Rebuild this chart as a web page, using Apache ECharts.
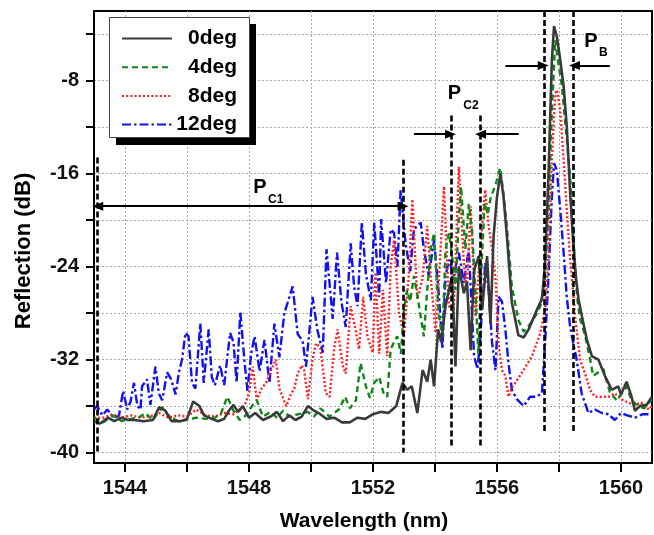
<!DOCTYPE html>
<html><head><meta charset="utf-8">
<script src="https://cdn.jsdelivr.net/npm/echarts@6/dist/echarts.min.js"></script>
<style>html,body{margin:0;padding:0;background:#fff}#c{width:654px;height:535px}</style>
</head><body><div id="c"></div>
<script>
const FONT = '"Liberation Sans", Arial, Helvetica, sans-serif';

// ---- axis ticks / labels ----
const xTicks = [1544,1546,1548,1550,1552,1554,1556,1558,1560];
const xLabels = [1544,1548,1552,1556,1560];
const yTicks = [-40,-36,-32,-28,-24,-20,-16,-12,-8,-4];
const yLabels = [-40,-32,-24,-16,-8];
const seriesNames = ['0deg','4deg','8deg','12deg'];

// ---- series values: [wavelength nm, reflection dB] ----
const deg0 = [[1543.0,-37.3],[1543.2,-37.5],[1543.45,-37.0],[1543.65,-37.3],[1543.9,-37.0],[1544.1,-37.2],[1544.3,-37.2],[1544.6,-37.3],[1544.9,-37.2],[1545.1,-36.1],[1545.3,-36.4],[1545.5,-37.3],[1545.8,-37.3],[1546.0,-37.1],[1546.2,-35.6],[1546.4,-36.0],[1546.55,-36.8],[1546.8,-37.1],[1547.0,-37.3],[1547.2,-37.1],[1547.35,-36.4],[1547.5,-35.9],[1547.65,-36.5],[1547.8,-36.0],[1548.0,-37.0],[1548.2,-36.6],[1548.45,-37.2],[1548.7,-36.9],[1548.9,-36.5],[1549.1,-37.3],[1549.3,-36.8],[1549.5,-37.2],[1549.7,-36.9],[1549.9,-36.0],[1550.1,-36.4],[1550.3,-36.7],[1550.5,-37.1],[1550.75,-37.0],[1551.0,-37.4],[1551.25,-37.4],[1551.5,-37.0],[1551.75,-37.1],[1552.0,-36.7],[1552.25,-36.5],[1552.5,-36.6],[1552.75,-36.0],[1552.95,-34.0],[1553.1,-34.6],[1553.25,-34.3],[1553.43,-36.6],[1553.6,-32.9],[1553.75,-33.9],[1553.86,-32.0],[1553.97,-34.3],[1554.1,-29.4],[1554.2,-30.5],[1554.34,-27.4],[1554.45,-26.0],[1554.55,-24.8],[1554.66,-32.6],[1554.77,-24.0],[1554.93,-26.3],[1555.03,-25.3],[1555.15,-31.2],[1555.26,-24.3],[1555.41,-23.1],[1555.52,-27.7],[1555.68,-23.1],[1555.79,-28.9],[1555.89,-21.4],[1556.0,-18.0],[1556.11,-16.0],[1556.21,-18.0],[1556.32,-21.4],[1556.48,-27.1],[1556.69,-29.9],[1556.86,-30.1],[1557.02,-29.4],[1557.29,-27.7],[1557.45,-26.8],[1557.55,-23.7],[1557.66,-16.2],[1557.77,-6.2],[1557.84,-3.3],[1557.93,-4.2],[1558.04,-6.2],[1558.15,-8.5],[1558.25,-11.9],[1558.36,-17.7],[1558.46,-22.0],[1558.55,-25.0],[1558.63,-26.8],[1558.74,-28.3],[1558.9,-30.3],[1559.06,-31.7],[1559.27,-32.0],[1559.48,-33.4],[1559.7,-34.6],[1559.91,-34.3],[1560.0,-35.0],[1560.18,-33.9],[1560.34,-35.2],[1560.45,-36.4],[1560.61,-36.0],[1560.82,-35.9],[1561.0,-35.2]];
const deg4 = [[1543.0,-37.0],[1543.3,-37.4],[1543.6,-36.8],[1543.9,-37.3],[1544.2,-37.1],[1544.5,-36.9],[1544.65,-36.6],[1544.9,-37.2],[1545.2,-36.1],[1545.4,-36.8],[1545.7,-37.3],[1546.0,-37.2],[1546.3,-37.0],[1546.6,-37.1],[1546.9,-37.0],[1547.1,-36.6],[1547.3,-35.2],[1547.5,-36.4],[1547.7,-37.2],[1547.9,-36.8],[1548.1,-36.0],[1548.25,-35.5],[1548.45,-36.9],[1548.7,-36.5],[1548.9,-37.0],[1549.1,-36.4],[1549.3,-36.9],[1549.6,-36.7],[1549.9,-36.5],[1550.1,-36.9],[1550.3,-36.2],[1550.6,-36.9],[1550.9,-36.3],[1551.1,-35.2],[1551.25,-36.2],[1551.45,-35.5],[1551.6,-32.3],[1551.77,-34.3],[1551.9,-35.3],[1552.04,-34.0],[1552.2,-33.5],[1552.35,-35.0],[1552.46,-35.2],[1552.57,-31.1],[1552.68,-30.5],[1552.78,-30.0],[1552.9,-31.5],[1553.0,-27.7],[1553.1,-26.0],[1553.2,-27.0],[1553.32,-24.8],[1553.43,-26.5],[1553.54,-28.3],[1553.64,-30.0],[1553.75,-26.0],[1553.86,-22.5],[1553.97,-21.1],[1554.05,-25.0],[1554.13,-28.3],[1554.24,-30.0],[1554.34,-22.5],[1554.45,-21.1],[1554.55,-23.0],[1554.66,-26.0],[1554.77,-19.7],[1554.84,-17.1],[1554.98,-22.5],[1555.09,-18.6],[1555.2,-21.0],[1555.3,-26.0],[1555.4,-31.5],[1555.5,-24.0],[1555.6,-18.5],[1555.7,-19.5],[1555.8,-18.0],[1555.95,-17.0],[1556.1,-15.5],[1556.2,-17.5],[1556.32,-20.6],[1556.48,-25.7],[1556.69,-28.6],[1556.86,-29.6],[1557.05,-29.0],[1557.25,-28.2],[1557.4,-27.4],[1557.55,-25.1],[1557.66,-19.3],[1557.77,-10.7],[1557.88,-4.5],[1557.98,-6.5],[1558.09,-8.4],[1558.25,-13.0],[1558.36,-16.4],[1558.46,-20.6],[1558.52,-24.5],[1558.6,-27.0],[1558.68,-28.5],[1558.84,-29.9],[1559.0,-31.9],[1559.1,-33.4],[1559.27,-33.1],[1559.43,-32.8],[1559.64,-34.8],[1559.86,-35.5],[1560.0,-35.0],[1560.18,-34.3],[1560.34,-35.5],[1560.56,-36.0],[1560.75,-36.2],[1561.0,-35.4]];
const deg8 = [[1543.0,-37.0],[1543.3,-37.0],[1543.6,-36.7],[1543.9,-37.0],[1544.2,-36.8],[1544.5,-37.0],[1544.8,-36.9],[1545.1,-36.6],[1545.4,-37.0],[1545.7,-36.8],[1546.0,-36.9],[1546.3,-36.3],[1546.6,-36.8],[1546.9,-36.9],[1547.2,-36.6],[1547.5,-36.7],[1547.69,-36.3],[1547.85,-36.0],[1548.0,-34.9],[1548.12,-32.6],[1548.25,-35.5],[1548.4,-34.5],[1548.55,-34.0],[1548.71,-32.9],[1548.87,-32.0],[1548.98,-34.5],[1549.2,-36.0],[1549.35,-35.0],[1549.46,-34.5],[1549.57,-33.2],[1549.7,-32.5],[1549.78,-32.9],[1549.9,-35.4],[1550.05,-32.0],[1550.16,-30.6],[1550.3,-31.0],[1550.48,-34.9],[1550.6,-35.2],[1550.75,-31.0],[1550.86,-29.4],[1551.02,-32.5],[1551.12,-33.2],[1551.28,-27.4],[1551.45,-29.6],[1551.55,-31.1],[1551.68,-26.6],[1551.82,-30.0],[1551.99,-31.4],[1552.08,-24.5],[1552.2,-31.5],[1552.32,-26.0],[1552.46,-31.7],[1552.57,-24.0],[1552.68,-21.7],[1552.84,-28.0],[1553.0,-30.0],[1553.16,-24.5],[1553.27,-18.2],[1553.43,-26.8],[1553.6,-25.0],[1553.75,-20.5],[1553.88,-25.5],[1554.02,-29.7],[1554.15,-24.0],[1554.29,-17.1],[1554.45,-27.4],[1554.6,-28.0],[1554.77,-15.4],[1554.93,-23.7],[1555.03,-26.0],[1555.15,-18.8],[1555.31,-28.3],[1555.46,-22.5],[1555.62,-17.4],[1555.73,-20.5],[1555.84,-22.5],[1555.95,-24.9],[1556.05,-30.6],[1556.16,-32.9],[1556.27,-33.4],[1556.37,-35.2],[1556.48,-34.4],[1556.59,-34.0],[1556.86,-32.9],[1557.13,-31.7],[1557.4,-29.7],[1557.55,-27.7],[1557.66,-23.4],[1557.77,-14.8],[1557.88,-9.1],[1557.93,-8.8],[1558.04,-10.5],[1558.15,-14.8],[1558.25,-19.1],[1558.36,-23.4],[1558.46,-26.3],[1558.52,-28.3],[1558.68,-32.0],[1558.84,-33.2],[1559.0,-34.6],[1559.16,-35.2],[1559.38,-35.2],[1559.6,-35.2],[1559.8,-34.9],[1560.0,-35.4],[1560.23,-35.7],[1560.45,-35.9],[1560.65,-35.7],[1560.9,-36.3],[1561.0,-36.0]];
const deg12 = [[1543.0,-36.3],[1543.1,-36.0],[1543.27,-36.8],[1543.43,-36.3],[1543.6,-36.9],[1543.8,-36.9],[1543.94,-34.7],[1544.07,-36.3],[1544.18,-35.6],[1544.29,-34.0],[1544.4,-36.0],[1544.5,-36.3],[1544.55,-34.3],[1544.71,-33.7],[1544.82,-35.9],[1544.98,-32.6],[1545.09,-34.9],[1545.2,-35.5],[1545.36,-33.1],[1545.49,-33.7],[1545.63,-35.0],[1545.74,-33.1],[1545.84,-32.0],[1545.95,-29.7],[1546.05,-30.0],[1546.16,-34.0],[1546.27,-34.5],[1546.43,-28.9],[1546.54,-34.0],[1546.7,-29.4],[1546.8,-33.5],[1546.9,-34.2],[1547.07,-32.5],[1547.2,-34.2],[1547.39,-29.7],[1547.5,-30.5],[1547.6,-34.0],[1547.72,-27.9],[1547.85,-32.0],[1547.95,-34.7],[1548.07,-31.5],[1548.18,-30.0],[1548.34,-33.0],[1548.5,-30.3],[1548.66,-34.0],[1548.82,-28.9],[1548.98,-31.8],[1549.14,-28.0],[1549.41,-25.7],[1549.57,-29.8],[1549.73,-30.4],[1549.84,-32.6],[1550.05,-26.6],[1550.21,-29.5],[1550.38,-31.4],[1550.5,-22.5],[1550.7,-28.5],[1550.84,-22.8],[1550.98,-27.0],[1551.12,-29.2],[1551.28,-22.0],[1551.39,-25.7],[1551.5,-27.4],[1551.64,-20.2],[1551.77,-24.6],[1551.93,-26.9],[1552.04,-20.2],[1552.2,-26.6],[1552.26,-19.9],[1552.42,-25.4],[1552.57,-20.8],[1552.68,-21.1],[1552.79,-24.0],[1552.89,-17.4],[1553.05,-22.0],[1553.2,-24.4],[1553.32,-20.8],[1553.54,-20.2],[1553.64,-22.5],[1553.8,-24.8],[1553.97,-21.7],[1554.13,-26.6],[1554.24,-31.1],[1554.34,-24.8],[1554.45,-23.4],[1554.6,-24.8],[1554.77,-22.8],[1554.93,-25.4],[1555.09,-22.5],[1555.26,-31.7],[1555.37,-32.8],[1555.45,-30.6],[1555.52,-27.5],[1555.62,-23.7],[1555.73,-26.0],[1555.84,-30.5],[1555.95,-32.9],[1556.05,-26.6],[1556.16,-27.0],[1556.27,-29.4],[1556.37,-32.3],[1556.48,-34.6],[1556.64,-35.4],[1556.86,-36.0],[1557.07,-35.2],[1557.27,-35.2],[1557.45,-34.9],[1557.55,-30.6],[1557.66,-24.9],[1557.77,-18.0],[1557.84,-15.1],[1557.93,-15.7],[1558.04,-19.1],[1558.15,-22.8],[1558.25,-26.6],[1558.36,-29.2],[1558.46,-30.6],[1558.57,-32.0],[1558.73,-34.9],[1558.95,-36.6],[1559.16,-36.3],[1559.38,-36.6],[1559.59,-36.7],[1559.8,-37.2],[1560.0,-36.6],[1560.2,-36.8],[1560.45,-37.0],[1560.7,-36.7],[1561.0,-36.7]];

// ---- annotations (data coordinates) ----
const vLines = [[1543.12,-14.6,-40],[1552.97,-14.8,-40],[1554.52,-11.0,-39.5],[1555.45,-11.0,-39.6],[1557.52,-2,-38.3],[1558.47,-2,-38.3]];
// [x from, x to, y, arrowhead at start?, arrowhead at end?]
const arrows = [[1543.12,1552.97,-18.8,true,true],[1553.32,1554.5,-12.6,false,true],[1556.7,1555.47,-12.6,false,true],[1556.27,1557.49,-6.7,false,true],[1559.64,1558.5,-6.7,false,true]];
// [main x, main y, main text, sub x, sub y, sub text]
const tags = [[1548.35,-17.2,'P',1548.86,-18.25,'C1'],[1554.63,-9.1,'P',1555.16,-10.15,'C2'],[1559.03,-4.6,'P',1559.43,-5.55,'B']];

const chart = echarts.init(document.getElementById('c'), null, {renderer:'canvas'});
const colors = ['#3a3a3a','#12861a','#ff1f1f','#1212f0'];
const dashes = ['solid',[6,4],[2,2.2],[9,3,2.5,3]];
const datas = [deg0, deg4, deg8, deg12];

const series = seriesNames.map((n,i)=>({
  name:n, type:'line', data:datas[i], symbol:'none', showSymbol:false, smooth:false,
  z: 2 + (3-i)*0.01,
  lineStyle:{color:colors[i], width: i===0?2.6:2.4, type:dashes[i]},
  itemStyle:{color:colors[i]},
  emphasis:{disabled:true}, animation:false
}));

const mlData = [];
vLines.forEach(v=>mlData.push([
  {coord:[v[0],v[1]], symbol:'none', lineStyle:{type:[6,3], width:2.6, color:'#000'}},
  {coord:[v[0],v[2]], symbol:'none'}
]));
arrows.forEach(a=>mlData.push([
  {coord:[a[0],a[2]], symbol:a[3]?'triangle':'none', lineStyle:{type:'solid', width:2, color:'#000'}},
  {coord:[a[1],a[2]], symbol:a[4]?'triangle':'none'}
]));
const mpData = [];
tags.forEach(t=>{
  mpData.push({coord:[t[0],t[1]], label:{formatter:t[2], fontSize:20}});
  mpData.push({coord:[t[3],t[4]], label:{formatter:t[5], fontSize:12}});
});
series.push({
  name:'annot', type:'line', data:[], z:5, silent:true, animation:false,
  markLine:{silent:true, animation:false, symbolSize:[9,11], label:{show:false},
    lineStyle:{color:'#000'}, itemStyle:{color:'#000'}, emphasis:{disabled:true}, data:mlData},
  markPoint:{silent:true, animation:false, symbol:'circle', symbolSize:0,
    label:{show:true, position:'inside', color:'#000', fontWeight:'bold', fontFamily:FONT},
    itemStyle:{color:'rgba(0,0,0,0)'}, data:mpData}
});

const axisFont = {fontSize:20, fontWeight:'bold', color:'#111', fontFamily:FONT, formatter:v=>String(v)};
chart.setOption({
  backgroundColor:'#fff',
  animation:false,
  grid:{left:94, right:2, top:11, bottom:72, show:true, borderColor:'#000', borderWidth:2, backgroundColor:'transparent'},
  xAxis:{type:'value', min:1543, max:1561,
    axisLine:{show:true, onZero:false, lineStyle:{color:'#000', width:2}},
    axisTick:{show:true, customValues:xTicks, length:9, lineStyle:{color:'#000', width:2}},
    axisLabel:{customValues:xLabels, margin:15, ...axisFont},
    splitLine:{show:true, lineStyle:{color:'#a8a8a8', width:1, type:[2,2]}}},
  yAxis:{type:'value', min:-40.9, max:-2,
    axisLine:{show:true, onZero:false, lineStyle:{color:'#000', width:2}},
    axisTick:{show:true, customValues:yTicks, length:8, lineStyle:{color:'#000', width:2}},
    axisLabel:{customValues:yLabels, margin:15, ...axisFont},
    splitLine:{show:true, lineStyle:{color:'#a8a8a8', width:1, type:[2,2]}}},
  legend:{orient:'vertical', left:121, top:28, padding:0, itemWidth:50, itemHeight:20, itemGap:7.7,
    data:seriesNames, z:10, selectedMode:false,
    itemStyle:{opacity:0},
    formatter:n=>'{a|'+n+'}',
    textStyle:{rich:{a:{width:60, align:'right', fontSize:21, fontWeight:'bold', color:'#000', fontFamily:FONT}}}},
  graphic:[
    {type:'rect', z:6, shape:{x:116, y:24, width:140, height:121}, style:{fill:'#000'}},
    {type:'rect', z:7, shape:{x:109.5, y:17.5, width:140, height:120}, style:{fill:'#fff', stroke:'#444', lineWidth:1}},
    {type:'text', z:7, x:364, y:521, style:{text:'Wavelength (nm)', font:'bold 21px '+FONT, fill:'#000', align:'center', verticalAlign:'middle'}},
    {type:'text', z:7, x:24, y:251, rotation:Math.PI/2, style:{text:'Reflection (dB)', font:'bold 22px '+FONT, fill:'#000', align:'center', verticalAlign:'middle'}}
  ],
  series:series
});
</script></body></html>
